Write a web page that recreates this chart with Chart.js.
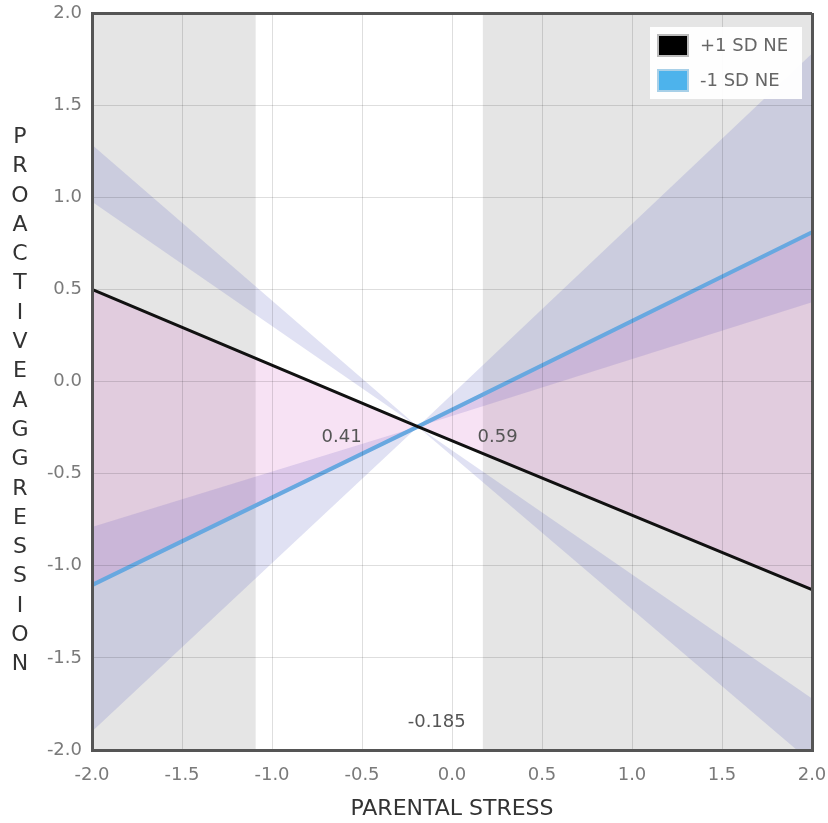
<!DOCTYPE html>
<html><head><meta charset="utf-8">
<script src="https://cdn.jsdelivr.net/npm/chart.js@4.4.0/dist/chart.umd.min.js"></script>
<style>
html,body{margin:0;padding:0;background:#fff;}
#wrap{position:relative;width:828px;height:823px;}
#c{position:absolute;left:0;top:0;}
#ytitle{position:absolute;left:8px;top:121px;width:24px;font-family:"DejaVu Sans";font-size:22px;color:#333;text-align:center;line-height:29.3px;}
</style></head><body>
<div id="wrap"><canvas id="c" width="828" height="823"></canvas><div id="ytitle"></div></div>
<script>
// ---- data ----
const xTitle = 'PARENTAL STRESS';
const yTitle = 'PROACTIVEAGGRESSION';
const xTickValues = [-2.0, -1.5, -1.0, -0.5, 0.0, 0.5, 1.0, 1.5, 2.0];
const yTickValues = [-2.0, -1.5, -1.0, -0.5, 0.0, 0.5, 1.0, 1.5, 2.0];
const seriesLabels = ['+1 SD NE', '-1 SD NE'];
const xPoints = [-2.0, -0.19, 2.0];
const plusSD = [0.50, -0.245, -1.13];
const minusSD = [-1.105, -0.245, 0.81];
const bandAEdge1 = [-0.79, -0.245, 0.43];
const bandAEdge2 = [-1.90, -0.245, 1.78];
const bandBEdge1 = [1.285, -0.245, -2.07];
const bandBEdge2 = [0.975, -0.245, -1.72];
const regionLeft = [-2.0, -1.09];
const regionRight = [0.17, 2.0];
const noteTexts = ['0.41', '0.59', '-0.185'];
const noteX = [-0.613, 0.253, -0.085];
const noteY = [-0.304, -0.304, -1.851];

document.getElementById('ytitle').innerHTML = yTitle.split('').map(c => '<div>' + c + '</div>').join('');

const pts = ys => xPoints.map((x, i) => ({x: x, y: ys[i]}));
const rect = r => r.map(x => ({x: x, y: yTickValues[yTickValues.length - 1]}));
const LAV = 'rgba(110,115,200,0.21)';
const PINK = 'rgba(200,60,180,0.15)';
const GRAY = '#e5e5e5';
const hidden = {borderWidth: 0, borderColor: 'rgba(0,0,0,0)', pointRadius: 0};

const datasets = [
  Object.assign({data: rect(regionLeft), fill: 'start', backgroundColor: GRAY, order: 10}, hidden),
  Object.assign({data: rect(regionRight), fill: 'start', backgroundColor: GRAY, order: 10}, hidden),
  Object.assign({data: pts(bandAEdge1), fill: {target: 3}, backgroundColor: LAV, order: 6}, hidden),
  Object.assign({data: pts(bandAEdge2), fill: false, order: 6}, hidden),
  Object.assign({data: pts(bandBEdge1), fill: {target: 5}, backgroundColor: LAV, order: 6}, hidden),
  Object.assign({data: pts(bandBEdge2), fill: false, order: 6}, hidden),
  Object.assign({data: pts(plusSD), fill: {target: 8}, backgroundColor: PINK, order: 4}, hidden),
  {label: seriesLabels[0], data: pts(plusSD), borderColor: '#111', backgroundColor: '#000', borderWidth: 3, pointRadius: 0, fill: false, order: 1},
  {label: seriesLabels[1], data: pts(minusSD), borderColor: '#68a8e0', backgroundColor: '#4db3ec', borderWidth: 4, pointRadius: 0, fill: false, order: 2}
];

const gridColor = c => (Math.abs(c.tick.value) === 2 ? '#555' : 'rgba(0,0,0,0.13)');
const gridWidth = c => (Math.abs(c.tick.value) === 2 ? 3 : 1);

const notesPlugin = {
  id: 'notes',
  afterDatasetsDraw(chart) {
    const {ctx, scales} = chart;
    ctx.save();
    ctx.font = '18px "DejaVu Sans"';
    ctx.fillStyle = '#555';
    ctx.textAlign = 'center';
    ctx.textBaseline = 'middle';
    noteTexts.forEach((t, i) => {
      ctx.fillText(t, scales.x.getPixelForValue(noteX[i]), scales.y.getPixelForValue(noteY[i]));
    });
    ctx.restore();
  }
};

const legendPlugin = {
  id: 'boxLegend',
  afterDraw(chart) {
    const {ctx, chartArea} = chart;
    const items = chart.data.datasets.filter(d => d.label);
    const bx = chartArea.right - 162, by = chartArea.top + 14, bw = 152, bh = 72;
    ctx.save();
    ctx.fillStyle = 'rgba(255,255,255,0.95)';
    ctx.fillRect(bx, by, bw, bh);
    ctx.font = '18px "DejaVu Sans"';
    ctx.textBaseline = 'middle';
    ctx.textAlign = 'left';
    items.forEach((d, i) => {
      const cy = by + 18 + i * 35;
      ctx.fillStyle = d.backgroundColor;
      ctx.fillRect(bx + 8, cy - 10, 30, 21);
      ctx.strokeStyle = i === 0 ? '#bbb' : '#a8d0e8';
      ctx.lineWidth = 2;
      ctx.strokeRect(bx + 8, cy - 10, 30, 21);
      ctx.fillStyle = '#666';
      ctx.fillText(d.label, bx + 50, cy + 1);
    });
    ctx.restore();
  }
};

new Chart(document.getElementById('c'), {
  type: 'line',
  data: {datasets: datasets},
  plugins: [notesPlugin, legendPlugin],
  options: {
    responsive: false,
    animation: false,
    events: [],
    layout: {padding: {left: 0, right: 16, top: 13, bottom: 0}},
    plugins: {legend: {display: false}, tooltip: {enabled: false}},
    scales: {
      x: {
        type: 'linear', min: -2, max: 2, z: 1,
        afterFit: s => { s.height = 73; s.paddingLeft = 0; s.paddingRight = 0; },
        afterBuildTicks: s => { s.ticks = xTickValues.map(v => ({value: v})); },
        ticks: {padding: 15, color: '#7a7a7a', font: {family: 'DejaVu Sans', size: 18}, maxRotation: 0, callback: v => Number(v).toFixed(1)},
        grid: {color: gridColor, lineWidth: gridWidth, drawTicks: false, z: 1},
        border: {display: true, color: '#555', width: 3, z: 2},
        title: {display: true, text: xTitle, color: '#333', font: {family: 'DejaVu Sans', size: 22}, padding: {top: 0, bottom: 1}}
      },
      y: {
        type: 'linear', min: -2, max: 2, z: 1,
        afterFit: s => { s.width = 92; s.paddingTop = 0; s.paddingBottom = 0; },
        afterBuildTicks: s => { s.ticks = yTickValues.map(v => ({value: v})); },
        ticks: {padding: 10, color: '#7a7a7a', font: {family: 'DejaVu Sans', size: 18}, callback: v => Number(v).toFixed(1)},
        grid: {color: gridColor, lineWidth: gridWidth, drawTicks: false, z: 1},
        border: {display: true, color: '#555', width: 3, z: 2}
      }
    }
  }
});
</script>
</body></html>
